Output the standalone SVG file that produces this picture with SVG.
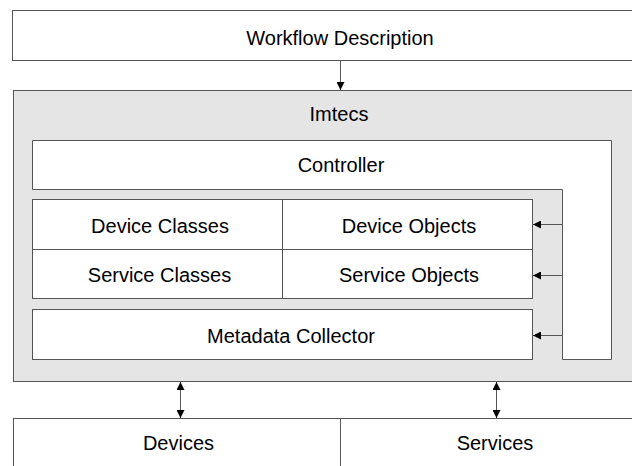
<svg xmlns="http://www.w3.org/2000/svg" width="632" height="466" viewBox="0 0 632 466">
  <style>
    .box { fill: #ffffff; stroke: #555555; stroke-width: 1; }
    .frame { fill: #e5e5e5; stroke: #555555; stroke-width: 1; }
    .edge { fill: none; stroke: #555555; stroke-width: 1; }
    .label { font-family: "Liberation Sans", Arial, sans-serif; font-size: 20px; fill: #000000; text-anchor: middle; }
  </style>
  <defs>
    <marker id="head" viewBox="0 0 8 8" refX="8" refY="4" markerWidth="8" markerHeight="8" markerUnits="userSpaceOnUse" orient="auto-start-reverse">
      <path d="M0,0 L8,4 L0,8 Z" fill="#000000"/>
    </marker>
  </defs>

  <g id="workflow-description">
    <rect class="box" x="12.5" y="10.5" width="630" height="50"/>
    <text class="label" x="340" y="45">Workflow Description</text>
  </g>

  <g id="imtecs">
    <rect class="frame" x="13.5" y="90.5" width="630" height="291"/>
    <text class="label" x="339" y="121">Imtecs</text>
  </g>

  <g id="controller">
    <path class="box" d="M32.5,140.5 H611.5 V359.5 H562.5 V189.5 H32.5 Z"/>
    <text class="label" x="341" y="172">Controller</text>
  </g>

  <g id="device-classes">
    <rect class="box" x="32.5" y="199.5" width="250" height="50"/>
    <text class="label" x="160" y="233">Device Classes</text>
  </g>

  <g id="device-objects">
    <rect class="box" x="282.5" y="199.5" width="250" height="50"/>
    <text class="label" x="409" y="233">Device Objects</text>
  </g>

  <g id="service-classes">
    <rect class="box" x="32.5" y="249.5" width="250" height="49"/>
    <text class="label" x="159.5" y="282">Service Classes</text>
  </g>

  <g id="service-objects">
    <rect class="box" x="282.5" y="249.5" width="250" height="49"/>
    <text class="label" x="409" y="282">Service Objects</text>
  </g>

  <g id="metadata-collector">
    <rect class="box" x="32.5" y="309.5" width="500" height="50"/>
    <text class="label" x="291" y="343">Metadata Collector</text>
  </g>

  <g id="devices">
    <rect class="box" x="13.5" y="418.5" width="327" height="60"/>
    <text class="label" x="178.5" y="450">Devices</text>
  </g>

  <g id="services">
    <rect class="box" x="340.5" y="418.5" width="310" height="60"/>
    <text class="label" x="495" y="450">Services</text>
  </g>

  <g id="connectors">
    <line class="edge" x1="340.5" y1="60.5" x2="340.5" y2="90" marker-end="url(#head)"/>
    <line class="edge" x1="562.5" y1="224.5" x2="533" y2="224.5" marker-end="url(#head)"/>
    <line class="edge" x1="562.5" y1="275.5" x2="533" y2="275.5" marker-end="url(#head)"/>
    <line class="edge" x1="562.5" y1="335.5" x2="533" y2="335.5" marker-end="url(#head)"/>
    <line class="edge" x1="180.5" y1="382" x2="180.5" y2="418" marker-start="url(#head)" marker-end="url(#head)"/>
    <line class="edge" x1="496.5" y1="382" x2="496.5" y2="418" marker-start="url(#head)" marker-end="url(#head)"/>
  </g>
</svg>
